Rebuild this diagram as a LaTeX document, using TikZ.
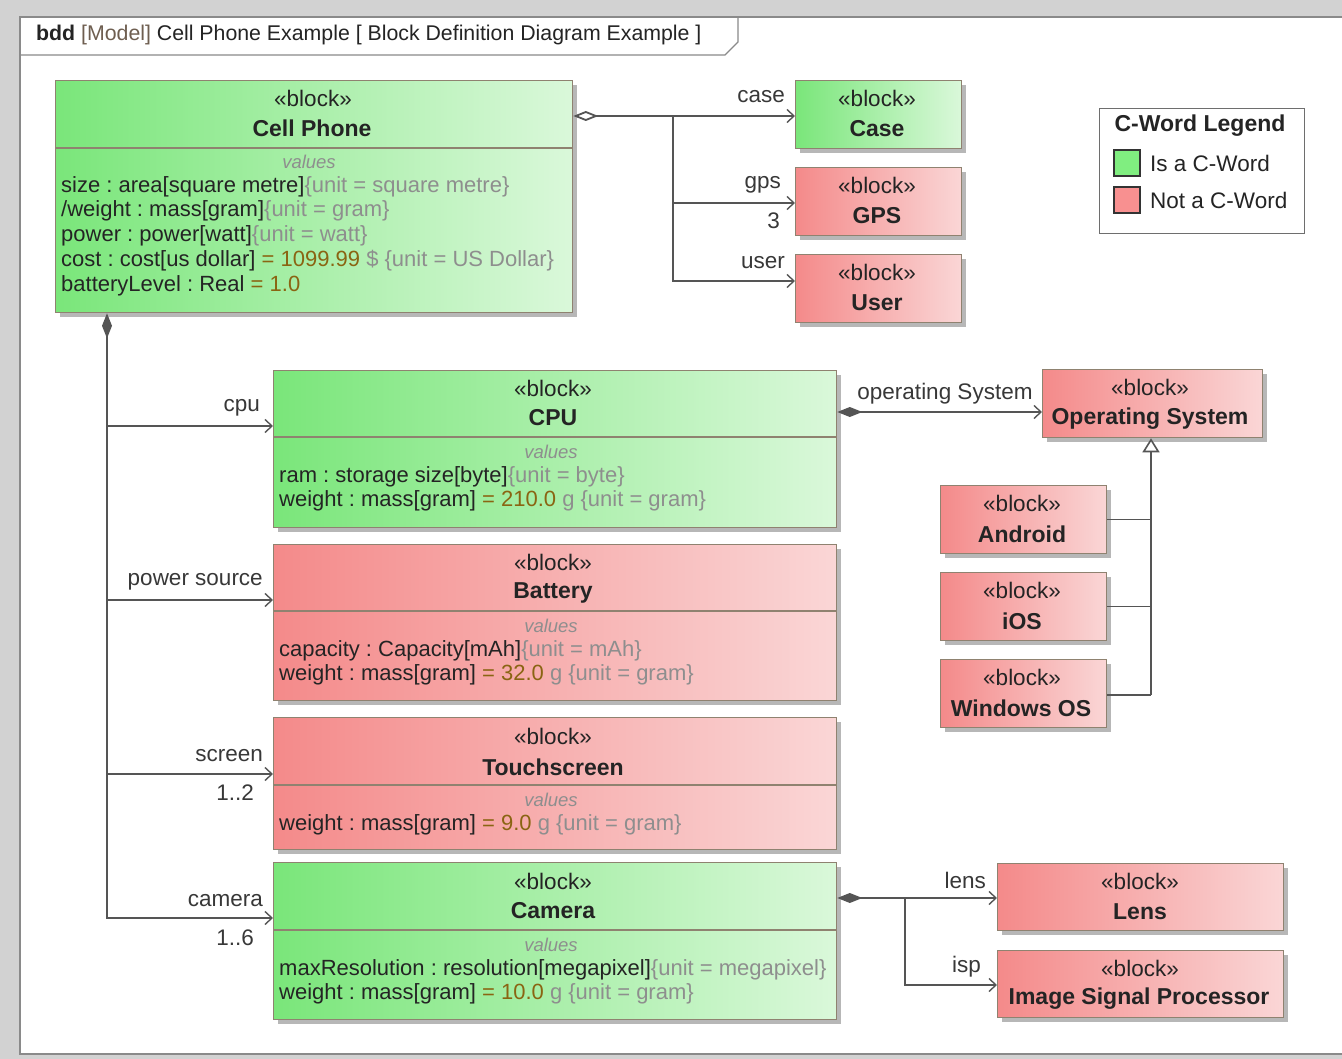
\documentclass[tikz,border=0pt]{standalone}
\usepackage{fontspec}
\setmainfont{Liberation Sans}
\usetikzlibrary{arrows.meta,shadows}
\definecolor{bgc}{HTML}{D2D2D2}
\definecolor{framec}{HTML}{8A8A8A}
\definecolor{txt}{HTML}{242424}
\definecolor{unitc}{HTML}{8E8E8E}
\definecolor{valc}{HTML}{8A6412}
\definecolor{lblc}{HTML}{383838}
\definecolor{linec}{HTML}{555555}
\definecolor{bordc}{HTML}{8F8270}
\definecolor{gL}{HTML}{7AE67A}
\definecolor{gR}{HTML}{DAF8DA}
\definecolor{rL}{HTML}{F48A8A}
\definecolor{rR}{HTML}{FAD6D6}
\definecolor{shadowc}{HTML}{A0A0A0}
\definecolor{legG}{HTML}{80EE80}
\definecolor{legR}{HTML}{F89090}
\definecolor{modelc}{HTML}{6E5E50}
\tikzset{
  blk/.style={draw=bordc, line width=1.3pt, anchor=north west, inner sep=0pt,
    drop shadow={shadow xshift=4pt, shadow yshift=-4pt, fill=shadowc, opacity=0.75}},
  gblk/.style={blk, left color=gL, right color=gR},
  rblk/.style={blk, left color=rL, right color=rR},
  divline/.style={draw=bordc, line width=1.3pt},
  tx/.style={inner sep=0pt, font=\fontsize{22.5}{25}\selectfont\frenchspacing, text=txt},
  stereo/.style={tx},
  ttl/.style={tx, font=\fontsize{23}{25}\selectfont\bfseries},
  vals/.style={tx, font=\fontsize{18.5}{22}\selectfont\itshape, text=unitc},
  attr/.style={tx, anchor=west, font=\fontsize{22}{25}\selectfont\frenchspacing},
  lbl/.style={tx, text=lblc},
  conn/.style={draw=linec, line width=1.6pt},
  barb/.tip={Straight Barb[length=7pt,width=13pt,line width=1.4pt]},
  odia/.tip={Diamond[open,length=25pt,width=10pt,line width=1.8pt]},
  fdia/.tip={Diamond[length=25pt,width=10pt]},
  gtri/.tip={Triangle[open,length=14pt,width=17pt,line width=1.6pt,fill=white]},
}
\newcommand{\unitx}[1]{\textcolor{unitc}{#1}}
\newcommand{\valx}[1]{\textcolor{valc}{#1}}
\begin{document}
\begin{tikzpicture}[x=1pt,y=-1pt]
\useasboundingbox (0,0) rectangle (1342,1059);
\fill[bgc] (0,0) rectangle (1342,1059);
% frame
\fill[white] (20,17) rectangle (1342,1054);
\draw[framec, line width=1.2pt] (1342,1054) -- (20,1054) -- (20,17) -- (1342,17);
\draw[framec, line width=1.2pt] (20,55) -- (725,55) -- (738,42) -- (738,17);
\node[tx, anchor=west, font=\fontsize{21.3}{25}\selectfont] (hdr) at (36,35) {\textbf{bdd} \textcolor{modelc}{[Model]} Cell Phone Example [ Block Definition Diagram Example ]};

% ---------- Cell Phone
\node[gblk, minimum width=517pt, minimum height=232pt] (cell) at (55,80) {};
\draw[divline] (cell.west |- 0,148) -- (cell.east |- 0,148);
\node[stereo] (cellS) at (313,98) {«block»};
\node[ttl] (cellT) at (312,128) {Cell Phone};
\node[vals] (cellV) at (309,162) {values};
\node[attr] (cellA1) at (61,187) {size : area[square metre]\unitx{\{unit = square metre\}}};
\node[attr] (cellA2) at (61,211) {/weight : mass[gram]\unitx{\{unit = gram\}}};
\node[attr] (cellA3) at (61,236) {power : power[watt]\unitx{\{unit = watt\}}};
\node[attr] (cellA4) at (61,261) {cost : cost[us dollar] \valx{= 1099.99} \unitx{\$ \{unit = US Dollar\}}};
\node[attr] (cellA5) at (61,286) {batteryLevel : Real \valx{= 1.0}};

% ---------- Case / GPS / User
\node[gblk, minimum width=166pt, minimum height=68pt] (caseB) at (795,80) {};
\node[stereo] (caseS) at (877,98) {«block»};
\node[ttl] (caseT) at (877,129) {Case};
\node[rblk, minimum width=166pt, minimum height=68pt] (gpsB) at (795,167) {};
\node[stereo] (gpsS) at (877,185) {«block»};
\node[ttl] (gpsT) at (877,216) {GPS};
\node[rblk, minimum width=166pt, minimum height=68pt] (userB) at (795,254) {};
\node[stereo] (userS) at (877,272) {«block»};
\node[ttl] (userT) at (877,303) {User};

% ---------- Legend
\node[draw=framec!80!black, line width=1.3pt, anchor=north west, minimum width=205pt, minimum height=125pt, inner sep=0pt] (leg) at (1099,108) {};
\node[ttl] (legT) at (1200,126) {C-Word Legend};
\node[draw=black!80, line width=1.3pt, fill=legG, minimum size=26pt, inner sep=0pt] (legGB) at (1127,163) {};
\node[tx, anchor=west] (legGT) at (1150,163) {Is a C-Word};
\node[draw=black!80, line width=1.3pt, fill=legR, minimum size=26pt, inner sep=0pt] (legRB) at (1127,200) {};
\node[tx, anchor=west] (legRT) at (1150,200) {Not a C-Word};

% ---------- CPU
\node[gblk, minimum width=563pt, minimum height=157pt] (cpu) at (273,370) {};
\draw[divline] (cpu.west |- 0,437) -- (cpu.east |- 0,437);
\node[stereo] (cpuS) at (553,388) {«block»};
\node[ttl] (cpuT) at (553,418) {CPU};
\node[vals] (cpuV) at (551,452) {values};
\node[attr] (cpuA1) at (279,477) {ram : storage size[byte]\unitx{\{unit = byte\}}};
\node[attr] (cpuA2) at (279,501) {weight : mass[gram] \valx{= 210.0} \unitx{g \{unit = gram\}}};

% ---------- Operating System and subtypes
\node[rblk, minimum width=220pt, minimum height=68pt] (os) at (1042,369) {};
\node[stereo] (osS) at (1150,387) {«block»};
\node[ttl] (osT) at (1150,419) {Operating System};
\node[rblk, minimum width=166pt, minimum height=68pt] (andr) at (940,485) {};
\node[stereo] (andrS) at (1022,503) {«block»};
\node[ttl] (andrT) at (1022,534) {Android};
\node[rblk, minimum width=166pt, minimum height=68pt] (ios) at (940,572) {};
\node[stereo] (iosS) at (1022,590) {«block»};
\node[ttl] (iosT) at (1022,621) {iOS};
\node[rblk, minimum width=166pt, minimum height=68pt] (win) at (940,659) {};
\node[stereo] (winS) at (1022,677) {«block»};
\node[ttl] (winT) at (1021,708) {Windows OS};

% ---------- Battery
\node[rblk, minimum width=563pt, minimum height=156pt] (bat) at (273,544) {};
\draw[divline] (bat.west |- 0,611) -- (bat.east |- 0,611);
\node[stereo] (batS) at (553,562) {«block»};
\node[ttl] (batT) at (553,593) {Battery};
\node[vals] (batV) at (551,626) {values};
\node[attr] (batA1) at (279,651) {capacity : Capacity[mAh]\unitx{\{unit = mAh\}}};
\node[attr] (batA2) at (279,675) {weight : mass[gram] \valx{= 32.0} \unitx{g \{unit = gram\}}};

% ---------- Touchscreen
\node[rblk, minimum width=563pt, minimum height=132pt] (ts) at (273,717) {};
\draw[divline] (ts.west |- 0,785) -- (ts.east |- 0,785);
\node[stereo] (tsS) at (553,736) {«block»};
\node[ttl] (tsT) at (553,767) {Touchscreen};
\node[vals] (tsV) at (551,800) {values};
\node[attr] (tsA1) at (279,825) {weight : mass[gram] \valx{= 9.0} \unitx{g \{unit = gram\}}};

% ---------- Camera
\node[gblk, minimum width=563pt, minimum height=157pt] (cam) at (273,862) {};
\draw[divline] (cam.west |- 0,930) -- (cam.east |- 0,930);
\node[stereo] (camS) at (553,881) {«block»};
\node[ttl] (camT) at (553,911) {Camera};
\node[vals] (camV) at (551,945) {values};
\node[attr] (camA1) at (279,970) {maxResolution : resolution[megapixel]\unitx{\{unit = megapixel\}}};
\node[attr] (camA2) at (279,994) {weight : mass[gram] \valx{= 10.0} \unitx{g \{unit = gram\}}};

% ---------- Lens / ISP
\node[rblk, minimum width=286pt, minimum height=67pt] (lens) at (997,863) {};
\node[stereo] (lensS) at (1140,881) {«block»};
\node[ttl] (lensT) at (1140,912) {Lens};
\node[rblk, minimum width=286pt, minimum height=67pt] (isp) at (997,950) {};
\node[stereo] (ispS) at (1140,968) {«block»};
\node[ttl] (ispT) at (1139,999) {Image Signal Processor};

% ---------- connectors: Cell Phone aggregation
\coordinate (jA) at (673,116);
\draw[conn, odia-barb] (cell.east |- jA) -- (caseB.west |- jA);
\draw[conn, -barb] (jA) |- (gpsB.west |- 0,203);
\draw[conn, -barb] (jA) |- (userB.west |- 0,281);
\node[lbl, anchor=east] (lCase) at (785,97) {case};
\node[lbl, anchor=east] (lGps) at (781,185) {gps};
\node[lbl, anchor=east] (lGpsM) at (780,221) {3};
\node[lbl, anchor=east] (lUser) at (785,263) {user};

% ---------- Cell Phone composition
\coordinate (jTop) at (107,312);
\coordinate (jCpu) at (107,426);
\coordinate (jBat) at (107,600);
\coordinate (jTs) at (107,774);
\draw[conn, fdia-barb] (cell.south -| jTop) |- (cam.west |- 0,918);
\draw[conn, -barb] (jCpu) -- (cpu.west |- jCpu);
\draw[conn, -barb] (jBat) -- (bat.west |- jBat);
\draw[conn, -barb] (jTs) -- (ts.west |- jTs);
\node[lbl, anchor=east] (lCpu) at (260,408) {cpu};
\node[lbl, anchor=east] (lBat) at (263,582) {power source};
\node[lbl, anchor=east] (lTs) at (263,756) {screen};
\node[lbl, anchor=east] (lTsM) at (254,793) {1..2};
\node[lbl, anchor=east] (lCam) at (263,901) {camera};
\node[lbl, anchor=east] (lCamM) at (254,938) {1..6};

% ---------- CPU -> OS
\draw[conn, fdia-barb] (cpu.east |- 0,412) -- (os.west |- 0,412);
\node[lbl] (lOs) at (945,394) {operating System};

% ---------- generalization
\coordinate (jG) at (1151,695);
\draw[conn] (win.east |- jG) -- (jG);
\draw[conn] (andr.east) -- (andr.east -| jG);
\draw[conn] (ios.east) -- (ios.east -| jG);
\draw[conn, -gtri] (jG) -- (os.south -| jG);

% ---------- Camera -> Lens / ISP
\coordinate (jC) at (905,898);
\draw[conn, fdia-barb] (cam.east |- jC) -- (lens.west |- jC);
\draw[conn, -barb] (jC) |- (isp.west |- 0,985);
\node[lbl, anchor=east] (lLens) at (986,880) {lens};
\node[lbl, anchor=east] (lIsp) at (981,967) {isp};
\end{tikzpicture}
\end{document}
